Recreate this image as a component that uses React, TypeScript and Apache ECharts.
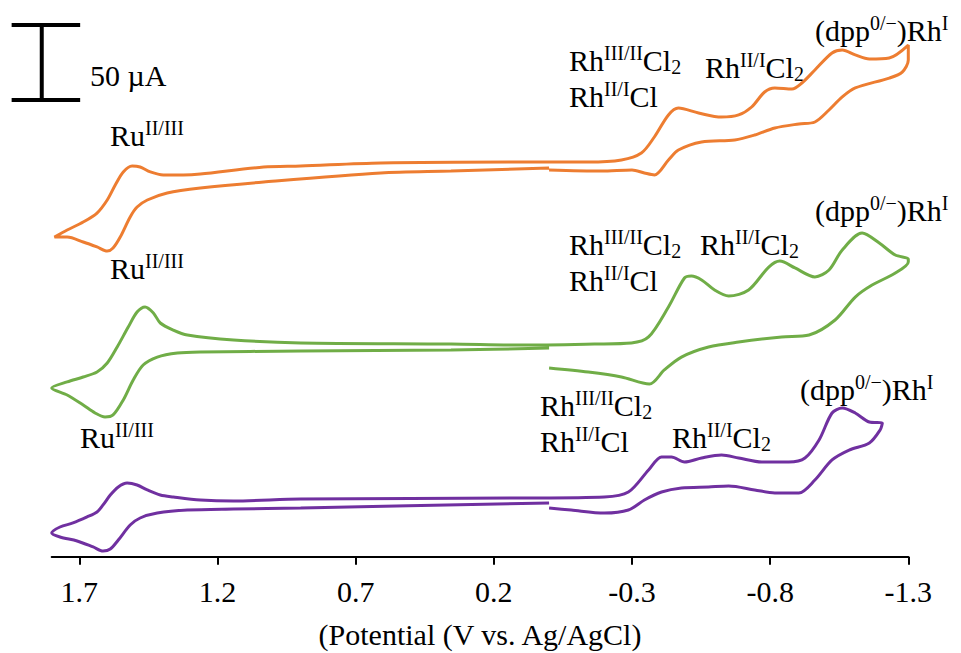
import React, { useEffect, useRef } from "react";
import * as echarts from "echarts";

const SERIF = "'Liberation Serif', 'Times New Roman', serif";

// Potential axis (V vs. Ag/AgCl), drawn reversed: positive on the left.
const X_MIN = -1.3;
const X_MAX = 1.8;
const TICKS = [1.7, 1.2, 0.7, 0.2, -0.3, -0.8, -1.3];

// Current axis (µA, hidden). The three voltammograms are stacked with vertical offsets.
const Y_MIN = 0;
const Y_MAX = 360;

// Each loop: from 0 V toward -1.3 V, back up to +1.8 V, then down to 0 V. [potential V, current µA]
const orangeCV: [number, number][] = [
  [0.0, 257.8], [-0.19, 257.1], [-0.3, 257.8], [-0.345, 255.8], [-0.381, 254.5],
  [-0.432, 264.5], [-0.468, 271.1], [-0.552, 276.5], [-0.672, 277.8], [-0.744, 281.1],
  [-0.817, 285.8], [-0.904, 288.5], [-0.962, 289.8], [-1.013, 297.8], [-1.061, 306.5],
  [-1.108, 312.5], [-1.231, 319.1], [-1.278, 323.1], [-1.3, 331.1], [-1.3, 341.1],
  [-1.231, 332.5], [-1.159, 331.8], [-1.108, 334.5], [-1.061, 337.8], [-1.024, 335.8],
  [-0.962, 324.5], [-0.915, 315.8], [-0.879, 311.8], [-0.817, 312.5], [-0.78, 309.8],
  [-0.733, 299.8], [-0.686, 294.5], [-0.624, 293.1], [-0.541, 295.8], [-0.468, 299.1],
  [-0.432, 294.5], [-0.381, 279.8], [-0.334, 269.1], [-0.262, 264.5], [-0.142, 263.1],
  [0.101, 263.1], [0.609, 262.5], [0.899, 260.5], [1.033, 259.8], [1.262, 255.1],
  [1.324, 254.5], [1.396, 254.5], [1.443, 256.5], [1.48, 259.8], [1.509, 260.5],
  [1.541, 256.5], [1.57, 247.8], [1.599, 237.8], [1.636, 229.1], [1.686, 223.1],
  [1.744, 217.8], [1.79, 213.1],
  [1.744, 213.1], [1.686, 209.8], [1.636, 206.5], [1.599, 203.8], [1.578, 205.8],
  [1.552, 213.1], [1.516, 226.5], [1.491, 233.1], [1.454, 237.8], [1.382, 242.5],
  [1.262, 245.8], [1.033, 249.8], [0.609, 255.8], [0.355, 257.1], [0.0, 259.1],
];

const greenCV: [number, number][] = [
  [0.0, 125.8], [-0.142, 123.1], [-0.262, 119.8], [-0.363, 115.1], [-0.417, 124.5],
  [-0.479, 133.1], [-0.577, 139.8], [-0.686, 143.1], [-0.842, 146.5], [-0.941, 147.8],
  [-1.035, 157.8], [-1.108, 173.1], [-1.169, 181.1], [-1.253, 189.1], [-1.3, 196.5],
  [-1.3, 198.5],
  [-1.253, 201.1], [-1.195, 209.1], [-1.133, 215.8], [-1.061, 204.5], [-1.013, 191.1],
  [-0.962, 186.5], [-0.89, 192.5], [-0.835, 197.1], [-0.795, 193.1], [-0.722, 177.8],
  [-0.65, 173.8], [-0.599, 177.8], [-0.552, 184.5], [-0.515, 187.1], [-0.49, 185.8],
  [-0.432, 166.5], [-0.36, 146.5], [-0.298, 142.5], [-0.164, 141.8], [0.101, 141.1],
  [0.355, 141.8], [0.899, 142.5], [1.142, 144.5], [1.309, 147.8], [1.36, 151.1],
  [1.407, 155.8], [1.432, 162.5], [1.462, 166.5], [1.491, 163.1], [1.523, 153.1],
  [1.563, 139.8], [1.599, 129.1], [1.636, 123.1], [1.686, 119.8], [1.744, 116.5],
  [1.8, 112.5],
  [1.744, 107.8], [1.686, 101.1], [1.643, 95.8], [1.607, 93.1], [1.578, 94.5],
  [1.541, 104.5], [1.505, 117.8], [1.469, 127.8], [1.418, 133.1], [1.345, 135.8],
  [1.262, 136.5], [0.899, 137.1], [0.355, 137.8], [0.0, 139.1],
];

const purpleCV: [number, number][] = [
  [0.0, 32.5], [-0.08, 31.1], [-0.2, 29.1], [-0.287, 31.1], [-0.345, 37.8],
  [-0.407, 43.1], [-0.479, 45.8], [-0.577, 46.5], [-0.65, 47.1], [-0.744, 44.5],
  [-0.817, 42.5], [-0.904, 42.5], [-0.962, 51.1], [-1.024, 64.5], [-1.086, 71.1],
  [-1.159, 75.8], [-1.198, 84.5], [-1.206, 89.1],
  [-1.159, 89.8], [-1.108, 95.8], [-1.061, 99.1], [-1.024, 95.8], [-0.977, 77.8],
  [-0.926, 65.8], [-0.868, 63.1], [-0.77, 63.1], [-0.686, 65.8], [-0.624, 67.8],
  [-0.552, 65.8], [-0.49, 63.1], [-0.443, 66.5], [-0.407, 66.5], [-0.36, 57.8],
  [-0.287, 43.1], [-0.2, 39.8], [0.101, 39.1], [0.899, 38.5], [1.142, 37.1],
  [1.262, 37.8], [1.36, 39.8], [1.407, 41.1], [1.454, 44.5], [1.491, 47.8],
  [1.527, 49.1], [1.559, 46.5], [1.588, 41.1], [1.614, 34.5], [1.636, 29.8],
  [1.672, 26.5], [1.723, 22.5], [1.77, 19.8], [1.8, 15.8],
  [1.77, 13.1], [1.708, 10.5], [1.65, 6.5], [1.614, 3.8], [1.588, 5.1],
  [1.559, 11.1], [1.516, 21.1], [1.48, 25.8], [1.418, 29.1], [1.309, 31.1],
  [1.142, 31.8], [0.899, 32.5], [0.0, 35.8],
];

// Current scale bar
const SCALE_BAR_UA = 50;
const SCALE_BAR_TOP_UA = 354.5;
const SCALE_BAR_POTENTIAL = 1.836;
const SCALE_BAR_CAP: [number, number] = [1.945, 1.697];

const COLORS = { orange: "#ED7D31", green: "#70AD47", purple: "#7030A0" };

// Rich-text markup for the redox assignments
const RU = "{m|Ru}{s|II/III}";
const RH32 = "{m|Rh}{s|III/II}{m|Cl}{b|2}";
const RH21CL = "{m|Rh}{s|II/I}{m|Cl}";
const RH21CL2 = "{m|Rh}{s|II/I}{m|Cl}{b|2}";
const DPP = "{m|(dpp}{s|0/\u2212}{m|)Rh}{s|I}";

const LABELS: { text: string; x: number; y: number }[] = [
  { text: RU, x: 110, y: 135 },
  { text: RU, x: 110, y: 268 },
  { text: RH32, x: 569, y: 60 },
  { text: RH21CL, x: 569, y: 96 },
  { text: RH21CL2, x: 705, y: 67 },
  { text: DPP, x: 815, y: 30 },
  { text: RU, x: 80, y: 437 },
  { text: RH32, x: 569, y: 244 },
  { text: RH21CL, x: 569, y: 280 },
  { text: RH21CL2, x: 700, y: 244 },
  { text: DPP, x: 815, y: 210 },
  { text: RH32, x: 540, y: 405 },
  { text: RH21CL, x: 540, y: 441 },
  { text: RH21CL2, x: 672, y: 437 },
  { text: DPP, x: 800, y: 389 },
];

const RICH = {
  m: { fontSize: 30, fontFamily: SERIF, lineHeight: 34, fill: "#000", color: "#000" },
  s: { fontSize: 20, fontFamily: SERIF, lineHeight: 22, verticalAlign: "top", fill: "#000", color: "#000" },
  b: { fontSize: 20, fontFamily: SERIF, lineHeight: 12, verticalAlign: "bottom", fill: "#000", color: "#000" },
};

function cvSeries(name: string, data: [number, number][], color: string) {
  return {
    name,
    type: "line",
    data,
    smooth: 0.3,
    symbol: "none",
    clip: false,
    silent: true,
    lineStyle: { color, width: 3 },
    itemStyle: { color },
  };
}

export default function App() {
  const ref = useRef<HTMLDivElement>(null);

  useEffect(() => {
    if (!ref.current) return;
    const chart = echarts.init(ref.current, undefined, { renderer: "svg" });

    chart.setOption({
      animation: false,
      backgroundColor: "#fff",
      grid: { left: 51.7, right: 52.7, top: 16.7, bottom: 96.3, outerBoundsMode: "none" },
      xAxis: {
        type: "value",
        min: X_MIN,
        max: X_MAX,
        inverse: true,
        name: "(Potential (V vs. Ag/AgCl)",
        nameLocation: "middle",
        nameGap: 63,
        nameTextStyle: { fontFamily: SERIF, fontSize: 30, color: "#000" },
        axisLine: { lineStyle: { color: "#000", width: 2 } },
        axisTick: { show: true, length: 8, customValues: TICKS, lineStyle: { color: "#000", width: 2 } },
        axisLabel: {
          customValues: TICKS,
          formatter: (v: number) => v.toFixed(1),
          fontFamily: SERIF,
          fontSize: 30,
          color: "#000",
          margin: 20,
        },
        splitLine: { show: false },
      },
      yAxis: { type: "value", min: Y_MIN, max: Y_MAX, show: false },
      series: [
        cvSeries("orange", orangeCV, COLORS.orange),
        cvSeries("green", greenCV, COLORS.green),
        cvSeries("purple", purpleCV, COLORS.purple),
      ],
    });

    // Scale bar placed through the axes' own data-to-pixel mapping
    const toPx = (v: number, i: number) =>
      chart.convertToPixel({ gridIndex: 0 }, [v, i]) as number[];
    const barBottom = SCALE_BAR_TOP_UA - SCALE_BAR_UA;
    const vTop = toPx(SCALE_BAR_POTENTIAL, SCALE_BAR_TOP_UA);
    const vBot = toPx(SCALE_BAR_POTENTIAL, barBottom);
    const capTopL = toPx(SCALE_BAR_CAP[0], SCALE_BAR_TOP_UA);
    const capTopR = toPx(SCALE_BAR_CAP[1], SCALE_BAR_TOP_UA);
    const capBotL = toPx(SCALE_BAR_CAP[0], barBottom);
    const capBotR = toPx(SCALE_BAR_CAP[1], barBottom);
    const barStyle = { stroke: "#000", lineWidth: 4 };

    chart.setOption({
      graphic: [
        { type: "line", silent: true, shape: { x1: vTop[0], y1: vTop[1], x2: vBot[0], y2: vBot[1] }, style: barStyle },
        { type: "line", silent: true, shape: { x1: capTopL[0], y1: capTopL[1], x2: capTopR[0], y2: capTopR[1] }, style: barStyle },
        { type: "line", silent: true, shape: { x1: capBotL[0], y1: capBotL[1], x2: capBotR[0], y2: capBotR[1] }, style: barStyle },
        {
          type: "text",
          x: 90,
          y: 75,
          silent: true,
          style: {
            text: `${SCALE_BAR_UA} \u00b5A`,
            font: `30px ${SERIF}`,
            fill: "#000",
            align: "left",
            verticalAlign: "middle",
          },
        },
        ...LABELS.map((l) => ({
          type: "text",
          x: l.x,
          y: l.y,
          silent: true,
          style: {
            text: l.text,
            rich: RICH,
            fill: "#000",
            font: `30px ${SERIF}`,
            align: "left",
            verticalAlign: "middle",
          },
        })),
      ],
    });

    return () => chart.dispose();
  }, []);

  return (
    <div
      ref={ref}
      style={{ position: "fixed", left: 0, top: 0, width: 961, height: 653 }}
    />
  );
}
